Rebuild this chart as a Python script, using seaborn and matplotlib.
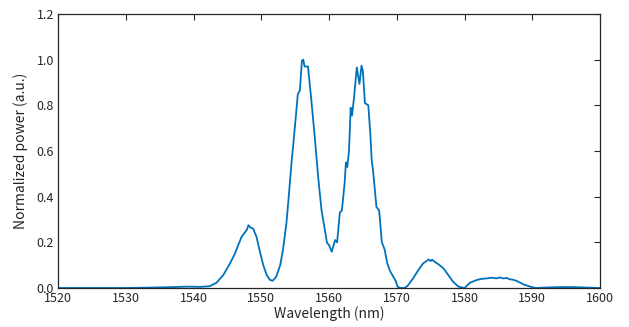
import matplotlib
matplotlib.use("Agg")
import matplotlib.pyplot as plt
import seaborn as sns
import pandas as pd

wavelength = [
    1520, 1530, 1534, 1537, 1539, 1541, 1542.4, 1543.4, 1544.4, 1545.4,
    1546.1, 1546.6, 1547.1, 1547.5, 1547.9, 1548.1, 1548.4, 1548.8, 1549.3, 1549.8,
    1550.3, 1550.8, 1551.3, 1551.7, 1552.2, 1552.8, 1553.2, 1553.7, 1554.0, 1554.5,
    1554.7, 1555.1, 1555.4, 1555.7, 1556.0, 1556.2, 1556.4, 1556.9, 1557.4, 1557.9,
    1558.4, 1558.9, 1559.4, 1559.7, 1560.0, 1560.4, 1560.9, 1561.2, 1561.6, 1561.9,
    1562.3, 1562.5, 1562.7, 1562.95, 1563.2, 1563.4, 1563.7, 1564.1, 1564.5, 1564.8,
    1565.0, 1565.3, 1565.8, 1566.1, 1566.3, 1566.5, 1567.0, 1567.4, 1567.8, 1568.2,
    1568.6, 1569.0, 1569.5, 1569.9, 1570.1, 1570.6, 1571.2, 1571.7, 1572.4, 1573.2,
    1573.9, 1574.4, 1574.7, 1575.0, 1575.2, 1575.6, 1576.1, 1576.9, 1577.6, 1578.3,
    1579.1, 1580.0, 1580.8, 1581.8, 1582.5, 1583.3, 1584.0, 1584.7, 1585.2, 1585.7,
    1586.2, 1586.7, 1587.2, 1587.7, 1588.7, 1589.7, 1590.5, 1592, 1594, 1596,
    1598, 1600,
]
power = [
    0.0, 0.0, 0.002, 0.004, 0.006, 0.005, 0.008, 0.023, 0.057, 0.108,
    0.15, 0.188, 0.224, 0.24, 0.256, 0.275, 0.265, 0.26, 0.224, 0.159,
    0.10, 0.057, 0.035, 0.032, 0.049, 0.10, 0.166, 0.28, 0.38, 0.56,
    0.62, 0.75, 0.85, 0.865, 0.995, 1.0, 0.97, 0.97, 0.82, 0.66,
    0.486, 0.34, 0.253, 0.198, 0.188, 0.159, 0.21, 0.20, 0.33, 0.34,
    0.457, 0.55, 0.53, 0.60, 0.79, 0.755, 0.835, 0.966, 0.894, 0.974,
    0.95, 0.81, 0.80, 0.675, 0.56, 0.515, 0.355, 0.34, 0.20, 0.17,
    0.108, 0.075, 0.049, 0.028, 0.006, 0.0, 0.0, 0.013, 0.042, 0.079,
    0.108, 0.118, 0.125, 0.118, 0.124, 0.115, 0.105, 0.086, 0.057, 0.028,
    0.006, 0.0, 0.023, 0.035, 0.040, 0.042, 0.045, 0.042, 0.046, 0.042,
    0.044, 0.038, 0.036, 0.031, 0.016, 0.006, 0.0, 0.002, 0.004, 0.004,
    0.002, 0.0,
]
x_ticks = [1520, 1530, 1540, 1550, 1560, 1570, 1580, 1590, 1600]
y_ticks = [0.0, 0.2, 0.4, 0.6, 0.8, 1.0, 1.2]

sns.set_theme(style="white")
plt.rcParams['font.family'] = ['Noto Sans CJK JP', 'DejaVu Sans']

df = pd.DataFrame({"Wavelength": wavelength, "Power": power})

fig = plt.figure(figsize=(6.29, 3.27), dpi=100)
ax = fig.add_axes([58/629, 39/327, 542/629, 274/327])
sns.lineplot(data=df, x="Wavelength", y="Power", ax=ax, color="#0072BD",
             linewidth=1.3, estimator=None)

ax.set_xlim(1520, 1600)
ax.set_ylim(0, 1.2)
ax.set_xticks(x_ticks)
ax.set_xticklabels([str(t) for t in x_ticks])
ax.set_yticks(y_ticks)
ax.set_yticklabels([f"{t:.1f}" for t in y_ticks])
ax.set_xlabel("Wavelength (nm)", fontsize=10, color="#262626", labelpad=1)
ax.set_ylabel("Normalized power (a.u.)", fontsize=10, color="#262626", labelpad=6)
ax.tick_params(axis="both", which="both", direction="in", length=4, width=0.8,
               labelsize=9, colors="#262626", top=True, right=True,
               labeltop=False, labelright=False, pad=3)
for s in ax.spines.values():
    s.set_visible(True)
    s.set_color("#262626")
    s.set_linewidth(0.9)

fig.savefig("out.png", dpi=100)
